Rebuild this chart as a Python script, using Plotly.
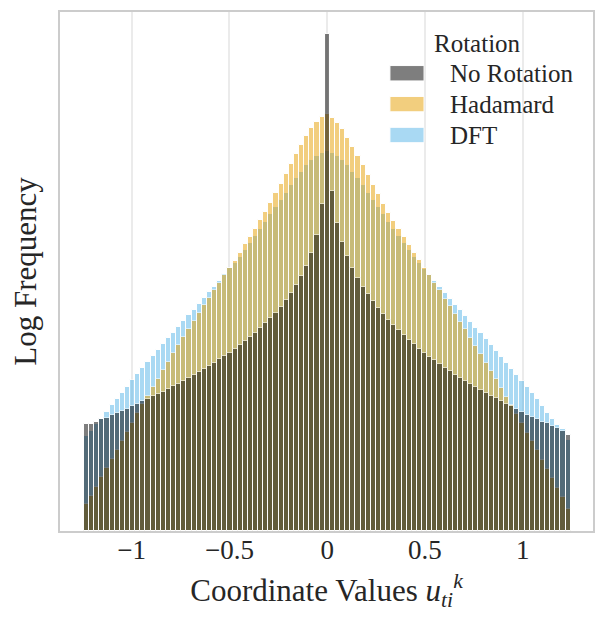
import numpy as np
import plotly.graph_objects as go

# histogram bins (coordinate values), shared by all three rotations
BIN_LO = -1.2445
BIN_HI = 1.2455
N_BINS = 95

# log frequency per bin
no_rotation = [
    1.07, 1.07, 1.09, 1.12, 1.13, 1.16, 1.18, 1.20, 1.22, 1.25,
    1.27, 1.30, 1.32, 1.35, 1.37, 1.39, 1.42, 1.45, 1.47, 1.50,
    1.53, 1.56, 1.59, 1.62, 1.65, 1.68, 1.72, 1.75, 1.78, 1.82,
    1.86, 1.90, 1.94, 1.98, 2.03, 2.08, 2.13, 2.18, 2.24, 2.31,
    2.38, 2.46, 2.55, 2.65, 2.78, 2.96, 3.27, 4.97, 3.40, 3.08,
    2.89, 2.75, 2.63, 2.53, 2.44, 2.37, 2.30, 2.23, 2.17, 2.11,
    2.06, 2.01, 1.96, 1.91, 1.87, 1.82, 1.78, 1.74, 1.71, 1.67,
    1.63, 1.60, 1.56, 1.53, 1.50, 1.47, 1.44, 1.41, 1.38, 1.35,
    1.33, 1.30, 1.27, 1.25, 1.22, 1.19, 1.16, 1.14, 1.12, 1.09,
    1.08, 1.05, 1.03, 1.00, 0.96,
]
hadamard = [
    0.27, 0.35, 0.44, 0.54, 0.63, 0.72, 0.81, 0.90, 0.99, 1.08,
    1.18, 1.27, 1.35, 1.44, 1.52, 1.61, 1.69, 1.78, 1.86, 1.94,
    2.02, 2.10, 2.18, 2.26, 2.33, 2.41, 2.48, 2.56, 2.63, 2.70,
    2.78, 2.87, 2.94, 3.02, 3.11, 3.19, 3.28, 3.38, 3.47, 3.57,
    3.67, 3.77, 3.86, 3.95, 4.03, 4.09, 4.14, 4.17, 4.13, 4.08,
    4.02, 3.93, 3.84, 3.75, 3.66, 3.56, 3.46, 3.37, 3.27, 3.18,
    3.10, 3.02, 2.94, 2.86, 2.78, 2.71, 2.63, 2.56, 2.48, 2.41,
    2.32, 2.25, 2.17, 2.09, 2.02, 1.93, 1.85, 1.77, 1.68, 1.60,
    1.52, 1.43, 1.34, 1.26, 1.17, 1.08, 0.98, 0.90, 0.81, 0.71,
    0.62, 0.53, 0.43, 0.34, 0.22,
]
dft = [
    0.95, 1.00, 1.07, 1.12, 1.19, 1.26, 1.32, 1.38, 1.44, 1.51,
    1.57, 1.63, 1.69, 1.75, 1.81, 1.87, 1.93, 1.98, 2.04, 2.10,
    2.16, 2.21, 2.27, 2.33, 2.39, 2.44, 2.50, 2.57, 2.63, 2.68,
    2.74, 2.81, 2.88, 2.95, 3.02, 3.09, 3.17, 3.24, 3.31, 3.38,
    3.46, 3.53, 3.59, 3.66, 3.71, 3.75, 3.78, 3.80, 3.78, 3.75,
    3.71, 3.66, 3.59, 3.53, 3.46, 3.38, 3.31, 3.24, 3.17, 3.09,
    3.02, 2.95, 2.88, 2.81, 2.74, 2.68, 2.62, 2.56, 2.50, 2.44,
    2.38, 2.32, 2.26, 2.21, 2.15, 2.09, 2.03, 1.98, 1.92, 1.86,
    1.80, 1.74, 1.68, 1.62, 1.56, 1.50, 1.44, 1.38, 1.32, 1.25,
    1.18, 1.12, 1.06, 1.02, 0.91,
]

series_names = ["No Rotation", "Hadamard", "DFT"]
series_colors = ["#000000", "#E69F00", "#56B4E9"]

tick_vals = [-1, -0.5, 0, 0.5, 1]
tick_text = ["\u22121", "\u22120.5", "0", "0.5", "1"]

FONT = "Liberation Serif"
TXT = "#262626"

edges = np.linspace(BIN_LO, BIN_HI, N_BINS + 1)
centers = (edges[:-1] + edges[1:]) / 2
bin_w = edges[1] - edges[0]

values = {"No Rotation": no_rotation, "Hadamard": hadamard, "DFT": dft}
color_of = dict(zip(series_names, series_colors))

fig = go.Figure()

# drawn back to front, like seaborn does with hue
for name in reversed(series_names):
    fig.add_trace(go.Bar(
        x=centers, y=values[name], width=bin_w, name=name,
        marker=dict(color=color_of[name], line=dict(color="white", width=1)),
        opacity=0.5, showlegend=False,
    ))

# legend drawn by hand so the swatches get the wide matplotlib shape
fig.add_annotation(x=0.697, y=0.94, xref="paper", yref="paper", text="Rotation",
                   showarrow=False, xanchor="left", yanchor="middle",
                   font=dict(family=FONT, size=25, color=TXT))
for i, name in enumerate(series_names):
    yc = 0.882 - i * 0.0595
    fig.add_shape(type="rect", xref="paper", yref="paper",
                  x0=0.619, x1=0.683, y0=yc - 0.0148, y1=yc + 0.0148,
                  fillcolor=color_of[name], opacity=0.5,
                  line=dict(color="white", width=1))
    fig.add_annotation(x=0.728, y=yc, xref="paper", yref="paper", text=name,
                       showarrow=False, xanchor="left", yanchor="middle",
                       font=dict(family=FONT, size=25, color=TXT))

# the page body adds 8px, so margins are shifted up/left by that much
fig.update_layout(
    width=605, height=623,
    margin=dict(l=52, r=20, t=4, b=100),
    barmode="overlay", bargap=0,
    plot_bgcolor="white", paper_bgcolor="white",
    font=dict(family=FONT, size=26, color=TXT),
)
fig.update_xaxes(
    range=[-1.367, 1.360], tickvals=tick_vals, ticktext=tick_text,
    showgrid=True, gridcolor="#ebebeb", gridwidth=1.5,
    showline=True, linecolor="#cccccc", linewidth=1.5, mirror=True,
    ticks="", ticklabelstandoff=-6,
    zeroline=False, tickfont=dict(size=27), automargin=False,
    title=dict(text="Coordinate Values <i>u</i><sub><i>ti</i></sub><sup><i>k</i></sup>",
               font=dict(size=31)),
)
fig.update_yaxes(
    range=[0, 5.19], showticklabels=False, showgrid=False, zeroline=False,
    showline=True, linecolor="#cccccc", linewidth=1.5, mirror=True,
    automargin=False,
    title=dict(text="Log Frequency", font=dict(size=31)),
)

fig.write_html("out.html")
